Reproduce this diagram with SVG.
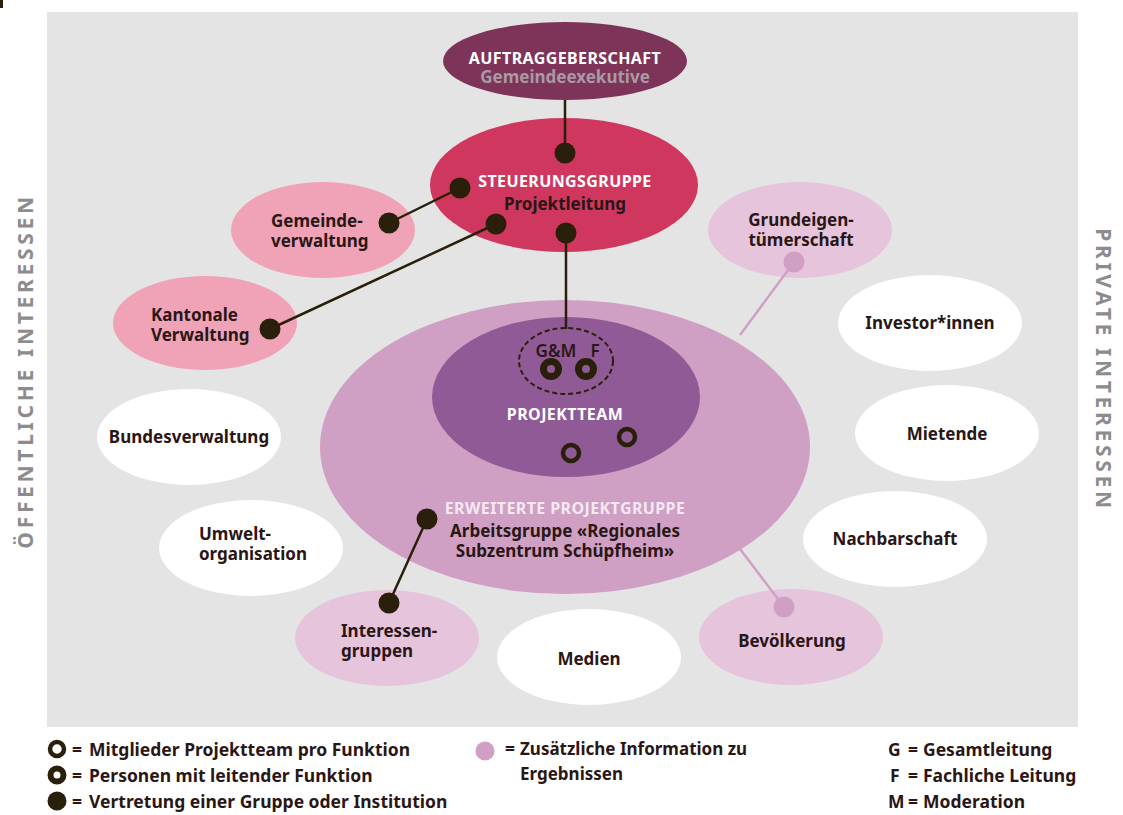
<svg xmlns="http://www.w3.org/2000/svg" width="1123" height="815" viewBox="0 0 1123 815">
<style>
text{font-family:"Noto Sans","Open Sans","Liberation Sans",sans-serif;font-weight:700;}
.lbl{font-size:17px;fill:#2a1614;}
.c{text-anchor:middle;}
.wh{fill:#ffffff;}
.caps{font-size:16px;letter-spacing:0.4px;}
.dot{fill:#2a1f0a;}
.con{stroke:#2a1f0a;stroke-width:2.5;fill:none;}
.pcon{stroke:#cfa0c4;stroke-width:2.5;fill:none;}
.ring{fill:none;stroke:#2a1f0a;stroke-width:4.5;}
.side{font-size:21px;fill:#8c8c8c;letter-spacing:3.7px;}
.leg{font-size:17.5px;fill:#2a1614;}
</style>
<rect x="0" y="0" width="1123" height="815" fill="#ffffff"/>
<rect x="0" y="0" width="3" height="8" fill="#2a1f0a"/>
<rect id="bg" x="47" y="12" width="1031" height="715" fill="#e4e4e4"/>

<text class="side c" transform="translate(33,371) rotate(-90)">ÖFFENTLICHE INTERESSEN</text>
<text class="side c" transform="translate(1096,370) rotate(90)">PRIVATE INTERESSEN</text>

<g id="erweiterte">
<ellipse cx="565" cy="447" rx="245" ry="147" fill="#cfa0c4"/>
<text class="c caps" x="565" y="514" style="fill:#f4e8f1">ERWEITERTE PROJEKTGRUPPE</text>
<text class="lbl c" x="565" y="537">Arbeitsgruppe «Regionales</text>
<text class="lbl c" x="565" y="557">Subzentrum Schüpfheim»</text>
</g>
<g id="projektteam">
<ellipse cx="566" cy="397" rx="134" ry="80" fill="#8f5a96"/>
<text class="c wh caps" x="565" y="420">PROJEKTTEAM</text>
</g>

<g id="auftraggeber">
<ellipse cx="565" cy="61" rx="122" ry="39" fill="#7e3458"/>
<text class="c wh caps" x="565" y="64">AUFTRAGGEBERSCHAFT</text>
<text class="c" x="565" y="83" style="font-size:17px;fill:#a89aa4">Gemeindeexekutive</text>
</g>
<g id="steuerung">
<ellipse cx="564" cy="185" rx="134" ry="67" fill="#d0375e"/>
<text class="c wh caps" x="565" y="187">STEUERUNGSGRUPPE</text>
<text class="lbl c" x="565" y="210">Projektleitung</text>
</g>
<g id="gemeindeverwaltung">
<ellipse cx="323" cy="230" rx="92" ry="48" fill="#f0a3b7"/>
<text class="lbl" x="271" y="227">Gemeinde-</text>
<text class="lbl" x="271" y="247">verwaltung</text>
</g>
<g id="kantonale">
<ellipse cx="205" cy="323" rx="92" ry="47" fill="#f0a3b7"/>
<text class="lbl" x="151" y="321">Kantonale</text>
<text class="lbl" x="151" y="341">Verwaltung</text>
</g>
<g id="bundesverwaltung">
<ellipse cx="189" cy="437" rx="92" ry="48" fill="#ffffff"/>
<text class="lbl c" x="189" y="443">Bundesverwaltung</text>
</g>
<g id="umwelt">
<ellipse cx="251" cy="548" rx="92" ry="48" fill="#ffffff"/>
<text class="lbl" x="199" y="540">Umwelt-</text>
<text class="lbl" x="199" y="560">organisation</text>
</g>
<g id="interessengruppen">
<ellipse cx="387" cy="638" rx="92" ry="48" fill="#e6c4dc"/>
<text class="lbl" x="341" y="637">Interessen-</text>
<text class="lbl" x="341" y="657">gruppen</text>
</g>
<g id="medien">
<ellipse cx="589" cy="657" rx="92" ry="48" fill="#ffffff"/>
<text class="lbl c" x="589" y="665">Medien</text>
</g>
<g id="grundeigentum">
<ellipse cx="800" cy="230" rx="92" ry="48" fill="#e6c4dc"/>
<text class="lbl c" x="801" y="226">Grundeigen-</text>
<text class="lbl c" x="801" y="246">tümerschaft</text>
</g>
<g id="investor">
<ellipse cx="930" cy="323" rx="92" ry="48" fill="#ffffff"/>
<text class="lbl c" x="930" y="329">Investor*innen</text>
</g>
<g id="mietende">
<ellipse cx="947" cy="433" rx="92" ry="48" fill="#ffffff"/>
<text class="lbl c" x="947" y="440">Mietende</text>
</g>
<g id="nachbarschaft">
<ellipse cx="895" cy="539" rx="92" ry="48" fill="#ffffff"/>
<text class="lbl c" x="895" y="545">Nachbarschaft</text>
</g>
<g id="bevoelkerung">
<ellipse cx="791" cy="637" rx="92" ry="48" fill="#e6c4dc"/>
<text class="lbl c" x="792" y="647">Bevölkerung</text>
</g>

<g id="connectors">
<line class="con" x1="565" y1="100" x2="565" y2="153"/>
<line class="con" x1="566" y1="233" x2="566" y2="329"/>
<line class="con" x1="389" y1="223" x2="460" y2="188"/>
<line class="con" x1="270" y1="329" x2="496" y2="224"/>
<line class="con" x1="427" y1="519" x2="389" y2="603"/>
<line class="pcon" x1="794" y1="262" x2="740" y2="335"/>
<line class="pcon" x1="784" y1="607" x2="737" y2="545"/>
</g>

<g id="markers">
<circle class="dot" cx="565" cy="153" r="10.5"/>
<circle class="dot" cx="460" cy="188" r="10.5"/>
<circle class="dot" cx="496" cy="224" r="10.5"/>
<circle class="dot" cx="566" cy="233" r="10.5"/>
<circle class="dot" cx="389" cy="223" r="10.5"/>
<circle class="dot" cx="270" cy="329" r="10.5"/>
<circle class="dot" cx="427" cy="519" r="10.5"/>
<circle class="dot" cx="389" cy="603" r="10.5"/>
<circle cx="794" cy="262" r="10.5" fill="#cfa0c4"/>
<circle cx="784" cy="607" r="10.5" fill="#cfa0c4"/>
</g>

<g id="leitung">
<ellipse cx="566" cy="361" rx="47" ry="33" fill="none" stroke="#2a1f0a" stroke-width="2" stroke-dasharray="5,3"/>
<text class="c" x="556" y="357" style="font-size:17px;fill:#2a1614;font-weight:600">G&amp;M</text>
<text class="c" x="595" y="357" style="font-size:17px;fill:#2a1614;font-weight:600">F</text>
<circle cx="551" cy="369" r="7.5" fill="none" stroke="#2a1f0a" stroke-width="7"/>
<circle cx="586" cy="369" r="7.5" fill="none" stroke="#2a1f0a" stroke-width="7"/>
<circle class="ring" cx="627" cy="437" r="8"/>
<circle class="ring" cx="571" cy="453" r="8"/>
</g>

<g id="legend">
<circle class="ring" cx="57" cy="749" r="7"/>
<circle cx="57" cy="775" r="6.5" fill="none" stroke="#2a1f0a" stroke-width="6"/>
<circle class="dot" cx="57" cy="801" r="9.5"/>
<text class="leg" x="72" y="756">=</text>
<text class="leg" x="89" y="756">Mitglieder Projektteam pro Funktion</text>
<text class="leg" x="72" y="782">=</text>
<text class="leg" x="89" y="782">Personen mit leitender Funktion</text>
<text class="leg" x="72" y="808">=</text>
<text class="leg" x="89" y="808">Vertretung einer Gruppe oder Institution</text>
<circle cx="485" cy="751" r="9.5" fill="#cfa0c4"/>
<text class="leg" x="505" y="755">=</text>
<text class="leg" x="520" y="755" style="font-size:17px">Zusätzliche Information zu</text>
<text class="leg" x="520" y="780" style="font-size:17px">Ergebnissen</text>
<text class="leg" x="888" y="756">G</text>
<text class="leg" x="908" y="756">=</text>
<text class="leg" x="923" y="756">Gesamtleitung</text>
<text class="leg" x="890" y="782">F</text>
<text class="leg" x="908" y="782">=</text>
<text class="leg" x="923" y="782">Fachliche Leitung</text>
<text class="leg" x="888" y="808">M</text>
<text class="leg" x="908" y="808">=</text>
<text class="leg" x="923" y="808">Moderation</text>
</g>
</svg>
